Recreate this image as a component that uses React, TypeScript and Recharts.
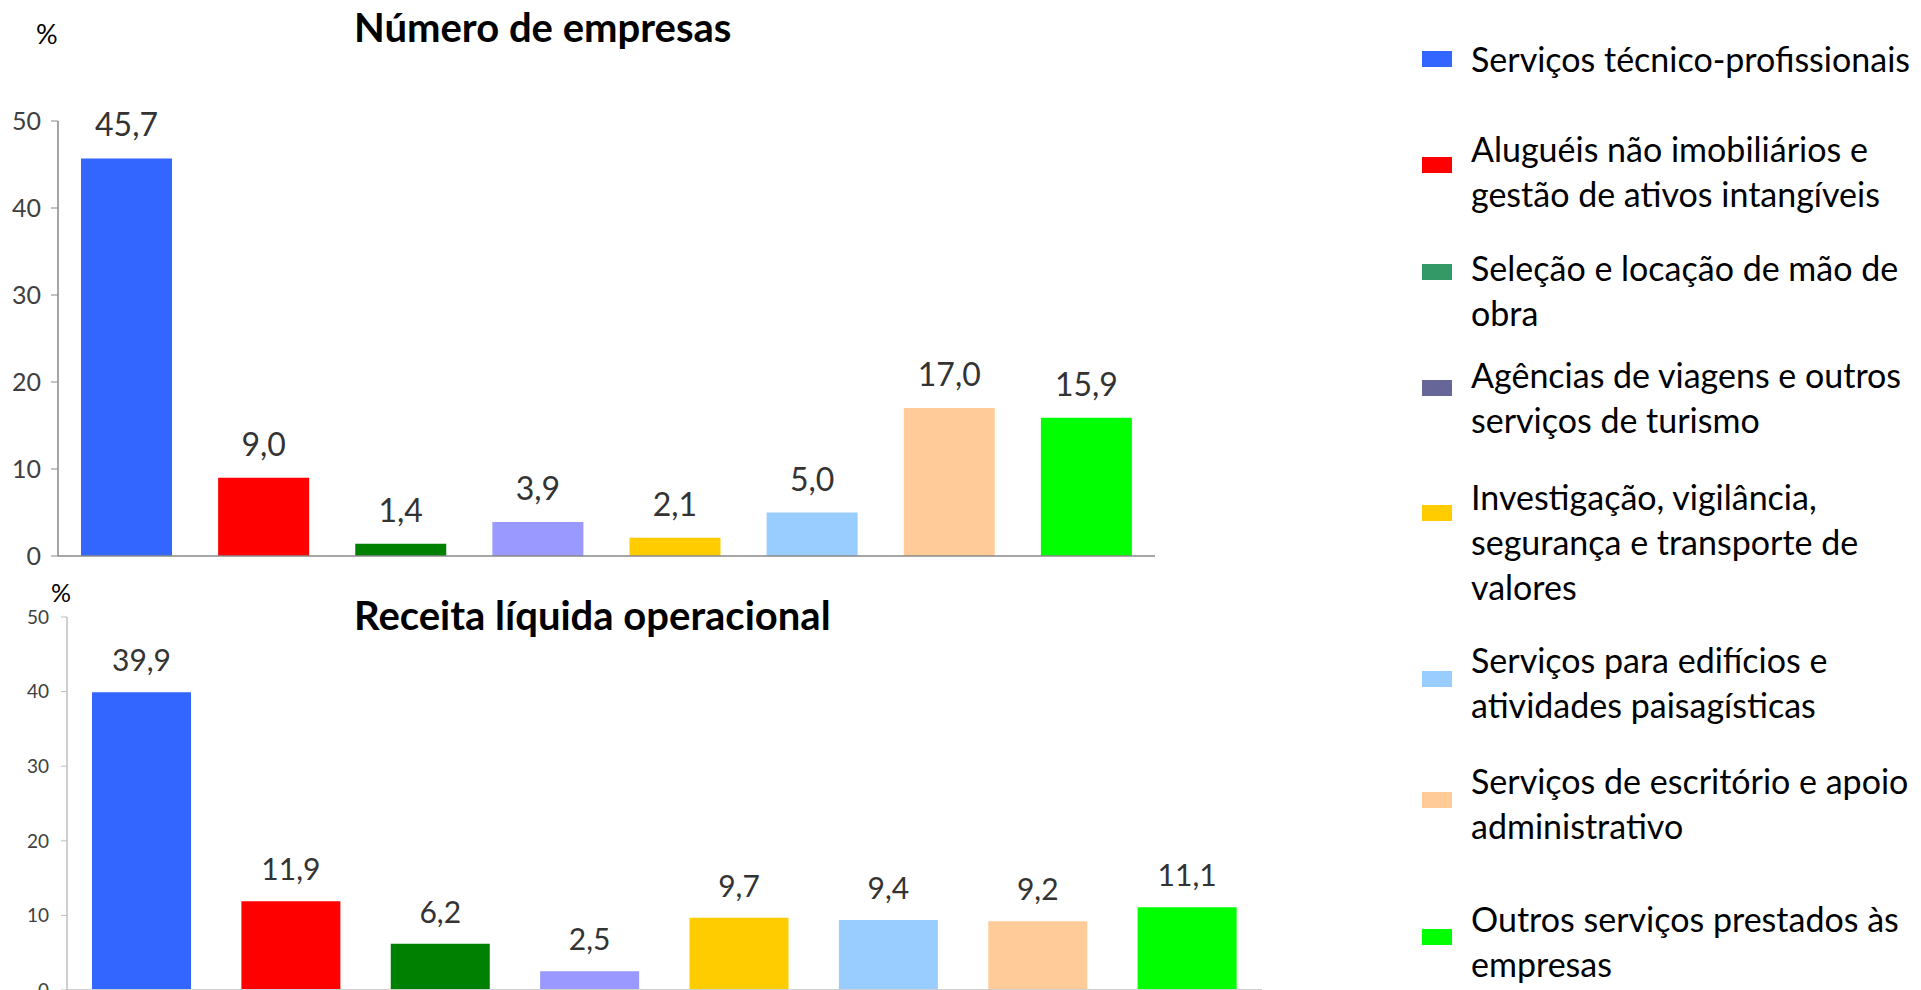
import { BarChart, Bar, XAxis, YAxis, Cell, LabelList } from 'recharts';

const categories = [
  'Serviços técnico-profissionais',
  'Aluguéis não imobiliários e gestão de ativos intangíveis',
  'Seleção e locação de mão de obra',
  'Agências de viagens e outros serviços de turismo',
  'Investigação, vigilância, segurança e transporte de valores',
  'Serviços para edifícios e atividades paisagísticas',
  'Serviços de escritório e apoio administrativo',
  'Outros serviços prestados às empresas',
];
const empresasPct = [45.7, 9.0, 1.4, 3.9, 2.1, 5.0, 17.0, 15.9];
const receitaPct = [39.9, 11.9, 6.2, 2.5, 9.7, 9.4, 9.2, 11.1];
const barColors = ['#3366FF', '#FF0000', '#008000', '#9999FF', '#FFCC00', '#99CCFF', '#FFCC99', '#00FF00'];
const legendColors = ['#3366FF', '#FF0000', '#339966', '#666699', '#FFCC00', '#99CCFF', '#FFCC99', '#00FF00'];
const legendLines = [
  ['Serviços técnico-profissionais'],
  ['Aluguéis não imobiliários e', 'gestão de ativos intangíveis'],
  ['Seleção e locação de mão de', 'obra'],
  ['Agências de viagens e outros', 'serviços de turismo'],
  ['Investigação, vigilância,', 'segurança e transporte de', 'valores'],
  ['Serviços para edifícios e', 'atividades paisagísticas'],
  ['Serviços de escritório e apoio', 'administrativo'],
  ['Outros serviços prestados às', 'empresas'],
];
const yTicks = [0, 10, 20, 30, 40, 50];
const titleTop = 'Número de empresas';
const titleBottom = 'Receita líquida operacional';

// layout (px in the 1921x990 frame)
const legendTextY = [58, 148, 267, 374, 496, 659, 780, 918];
const legendMarkY = [59, 165, 272, 388, 513, 679, 800, 937];

const FONT = 'Lato, "Open Sans", sans-serif';
const fmt = (v: unknown) => Number(v).toFixed(1).replace('.', ',');

const topData = categories.map((c, i) => ({ name: c, value: empresasPct[i] }));
const bottomData = categories.map((c, i) => ({ name: c, value: receitaPct[i] }));

export default function App() {
  return (
    <div
      style={{
        position: 'absolute', left: 0, top: 0, width: 1921, height: 990,
        overflow: 'hidden', background: '#fff', fontFamily: FONT,
      }}
    >
      {/* top chart */}
      <div style={{ position: 'absolute', left: 0, top: 0 }}>
        <BarChart width={1160} height={570} data={topData}
          margin={{ top: 121, right: 5, bottom: 13, left: 8 }}>
          <XAxis dataKey="name" height={1} tick={false} tickLine={false}
            axisLine={{ stroke: '#898989', strokeWidth: 1.5 }} />
          <YAxis domain={[0, 50]} ticks={yTicks} width={50} interval={0}
            tickSize={7} tickMargin={10}
            axisLine={{ stroke: '#898989', strokeWidth: 1.5 }} tickLine={{ stroke: '#898989' }}
            tick={{ fontSize: 25, fill: '#404040', fontFamily: FONT }} />
          <Bar dataKey="value" barSize={91} isAnimationActive={false}>
            {topData.map((d, i) => <Cell key={d.name} fill={barColors[i]} />)}
            <LabelList dataKey="value" position="top" offset={22} formatter={fmt}
              style={{ fontSize: 32, fill: '#333333', fontFamily: FONT }} />
          </Bar>
        </BarChart>
      </div>
      <div style={{ position: 'absolute', left: 36, top: 17, fontSize: 27, color: '#000' }}>%</div>
      <div style={{ position: 'absolute', left: 354, top: 3, fontSize: 40, fontWeight: 700, color: '#000' }}>
        {titleTop}
      </div>

      {/* bottom chart */}
      <div style={{ position: 'absolute', left: 0, top: 560 }}>
        <BarChart width={1267} height={440} data={bottomData}
          margin={{ top: 57, right: 5, bottom: 9, left: 7 }}>
          <XAxis dataKey="name" height={1} tick={false} tickLine={false}
            axisLine={{ stroke: '#d0d0d0', strokeWidth: 2 }} />
          <YAxis domain={[0, 50]} ticks={yTicks} width={60} interval={0}
            tickSize={6} tickMargin={12}
            axisLine={{ stroke: '#bfbfbf', strokeWidth: 1.5 }} tickLine={{ stroke: '#bfbfbf' }}
            tick={{ fontSize: 19, fill: '#404040', fontFamily: FONT }} />
          <Bar dataKey="value" barSize={99} isAnimationActive={false}>
            {bottomData.map((d, i) => <Cell key={d.name} fill={barColors[i]} />)}
            <LabelList dataKey="value" position="top" offset={21} formatter={fmt}
              style={{ fontSize: 30, fill: '#333333', fontFamily: FONT }} />
          </Bar>
        </BarChart>
      </div>
      <div style={{ position: 'absolute', left: 51, top: 577, fontSize: 25, color: '#000' }}>%</div>
      <div style={{ position: 'absolute', left: 354, top: 591, fontSize: 40, fontWeight: 700, color: '#000' }}>
        {titleBottom}
      </div>

      {/* legend */}
      {legendLines.map((lines, i) => (
        <div key={categories[i]}>
          <div style={{
            position: 'absolute', left: 1422, top: legendMarkY[i] - 8,
            width: 30, height: 16, background: legendColors[i],
          }} />
          <div style={{
            position: 'absolute', left: 1471, top: legendTextY[i] - 22.5,
            fontSize: 34, lineHeight: '45px', color: '#000', whiteSpace: 'nowrap',
          }}>
            {lines.map((l) => <div key={l}>{l}</div>)}
          </div>
        </div>
      ))}
    </div>
  );
}
